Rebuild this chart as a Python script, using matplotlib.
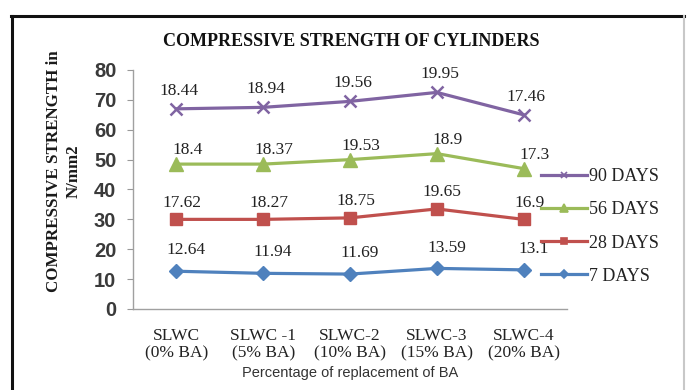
import matplotlib
matplotlib.use("Agg")
import matplotlib.pyplot as plt
from matplotlib.lines import Line2D

categories = ["SLWC\n(0% BA)", "SLWC -1\n(5% BA)", "SLWC-2\n(10% BA)",
              "SLWC-3\n(15% BA)", "SLWC-4\n(20% BA)"]

days_90 = [67.0, 67.5, 69.5, 72.5, 65.0]
days_56 = [48.5, 48.5, 50.0, 52.0, 47.0]
days_28 = [30.0, 30.0, 30.5, 33.5, 30.0]
days_7 = [12.64, 11.94, 11.69, 13.59, 13.1]

labels_90 = ["18.44", "18.94", "19.56", "19.95", "17.46"]
labels_56 = ["18.4", "18.37", "19.53", "18.9", "17.3"]
labels_28 = ["17.62", "18.27", "18.75", "19.65", "16.9"]
labels_7 = [f"{v:g}" for v in days_7]

yticks = [0, 10, 20, 30, 40, 50, 60, 70, 80]

serif = "Liberation Serif"
sans = "Liberation Sans"

fig = plt.figure(figsize=(6.88, 3.90), dpi=100)
ax = fig.add_axes([133 / 688, 1 - 309 / 390, (567 - 133) / 688, (309 - 70) / 390])

x = list(range(len(categories)))
series = [
    ("90 DAYS", days_90, labels_90, "#8064A2", "x", 9, (2, 13)),
    ("56 DAYS", days_56, labels_56, "#9BBB59", "^", 10, (8, 10)),
    ("28 DAYS", days_28, labels_28, "#C0504D", "s", 9, (4, 12)),
    ("7 DAYS", days_7, labels_7, "#4F81BD", "D", 7, (7, 15)),
]

handles = []
for name, vals, labs, color, marker, ms, off in series:
    ax.plot(x, vals, color=color, lw=2.3, marker=marker, ms=ms,
            mew=1.8 if marker == "x" else 1, mec=color, mfc=color, zorder=3)
    for xi, v, t in zip(x, vals, labs):
        ax.annotate(t, (xi, v), xytext=off, textcoords="offset points",
                    ha="center", va="center", fontsize=12.5,
                    family=serif, color="#222222", zorder=4)
    handles.append(Line2D([0], [0], color=color, lw=2.3, marker=marker,
                          ms=ms * 0.55, mew=1.2, mec=color, mfc=color,
                          label=name))

ax.set_xlim(-0.5, len(categories) - 0.5)
ax.set_ylim(0, 80)
ax.set_yticks(yticks)
ax.set_yticklabels([str(t) for t in yticks], fontsize=14.5, fontweight="bold",
                   family=sans, color="#3a3a3a")
ax.set_xticks(x)
ax.set_xticklabels(categories, fontsize=12.5, family=serif, color="#222222",
                   linespacing=1.1)
ax.tick_params(axis="x", length=0, pad=14)
ax.tick_params(axis="y", length=4, color="#999999", direction="out", pad=8)

for side in ("top", "right"):
    ax.spines[side].set_visible(False)
for side in ("left", "bottom"):
    ax.spines[side].set_color("#a0a0a0")
    ax.spines[side].set_linewidth(1.0)

fig.text(350 / 688, 1 - 373 / 390, "Percentage of replacement of BA",
         ha="center", va="center", fontsize=10.5, family=sans,
         color="#333333")
fig.text(64 / 688, 1 - 171 / 390, "COMPRESSIVE STRENGTH in\nN/mm2",
         ha="center", va="center", rotation=90, fontsize=12.2, family=serif,
         fontweight="bold", color="#1a1a1a", linespacing=1.3,
         multialignment="center")

fig.text(351 / 688, 1 - 42 / 390, "COMPRESSIVE STRENGTH OF CYLINDERS",
         ha="center", va="center", fontsize=13, family=serif,
         fontweight="bold", color="#111111")

leg = fig.legend(handles=handles, loc="upper left",
                 bbox_to_anchor=(541 / 688, 1 - 168 / 390), frameon=False,
                 prop={"family": serif, "size": 13}, handlelength=2.55,
                 handletextpad=0.1, labelspacing=0.9, borderpad=0,
                 borderaxespad=0)
for t in leg.get_texts():
    t.set_color("#222222")

# page frame around the chart
fig.add_artist(Line2D([12 / 688, 12 / 688], [0, 1 - 16 / 390],
                      color="#111111", lw=2.2, transform=fig.transFigure))
fig.add_artist(Line2D([11 / 688, 684 / 688], [1 - 16 / 390, 1 - 16 / 390],
                      color="#111111", lw=2.2, transform=fig.transFigure))
fig.add_artist(Line2D([684 / 688, 684 / 688], [0, 1 - 16 / 390],
                      color="#c8c8c8", lw=1.5, transform=fig.transFigure))

fig.savefig("out.png", dpi=100)
